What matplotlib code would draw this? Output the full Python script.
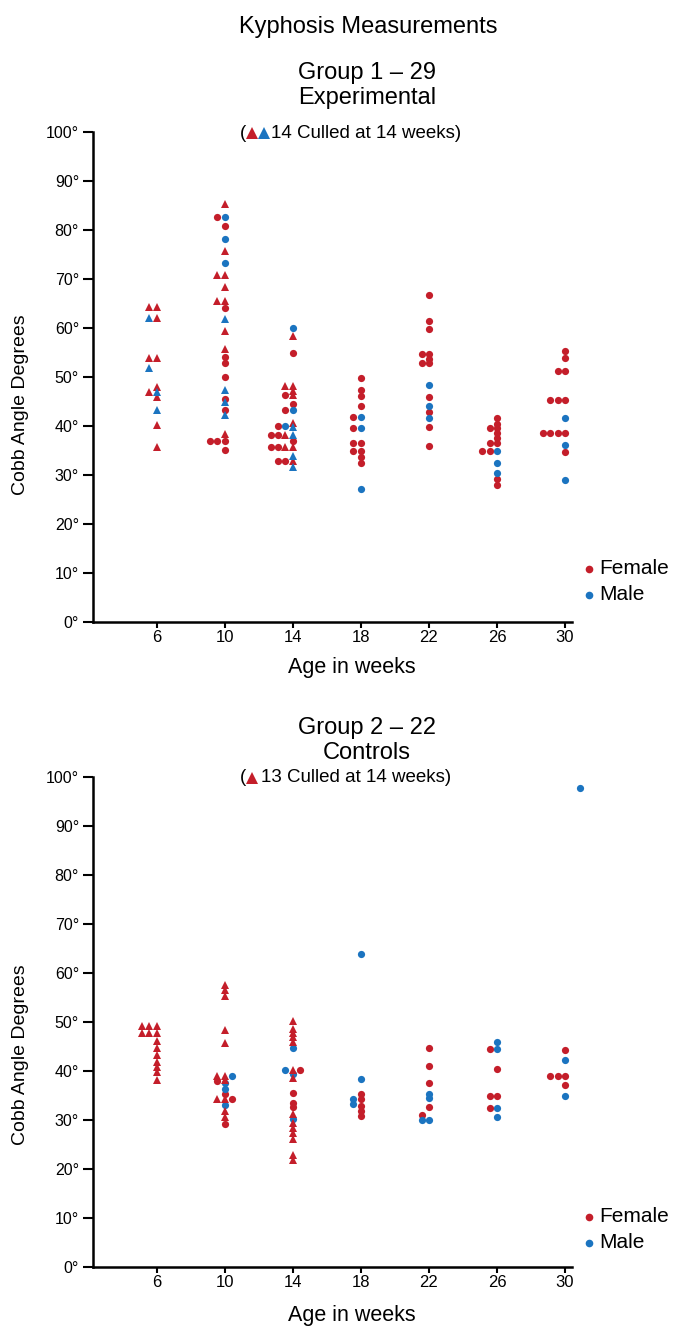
import matplotlib
matplotlib.use("Agg")
import matplotlib.pyplot as plt
from matplotlib.lines import Line2D

plt.rcParams['font.family'] = ['Liberation Sans', 'DejaVu Sans']

RED = '#C41E2A'
BLUE = '#1B74C0'

# kind codes: F/M = female/male, ^ = culled at 14 weeks, o = kept
# slot: dodge position inside a row of tied values (0 = on the age column)

# ---------------- Group 1 (Experimental) ----------------
exp6_cobb = [64.3, 64.3, 62.1, 62.1, 53.8, 53.8, 51.8, 48.0, 46.9, 47.0, 45.9, 43.2, 40.3, 35.8]
exp6_kind = ['F^', 'F^', 'M^', 'F^', 'F^', 'F^', 'M^', 'F^', 'F^', 'M^', 'F^', 'M^', 'F^', 'F^']
exp6_slot = [-1, 0, -1, 0, -1, 0, -1, 0, -1, 0, 0, 0, 0, 0]

exp10_cobb = [85.4, 82.6, 82.6, 80.8, 78.1, 75.8, 73.3, 70.9, 70.9, 68.4, 65.6, 65.6, 64.1,
              61.8, 59.3, 55.7, 54.0, 52.9, 50.0, 47.3, 45.6, 44.8, 43.2, 42.2, 38.3,
              37.0, 37.0, 37.0, 35.1]
exp10_kind = ['F^', 'Fo', 'Mo', 'Fo', 'Mo', 'F^', 'Mo', 'F^', 'F^', 'F^', 'F^', 'F^', 'Fo',
              'M^', 'F^', 'F^', 'Fo', 'Fo', 'Fo', 'M^', 'Fo', 'M^', 'Fo', 'M^', 'F^',
              'Fo', 'Fo', 'Fo', 'Fo']
exp10_slot = [0, -1, 0, 0, 0, 0, 0, -1, 0, 0, -1, 0, 0,
              0, 0, 0, 0, 0, 0, 0, 0, 0, 0, 0, 0,
              -2, -1, 0, 0]

exp14_cobb = [59.9, 58.3, 55.0, 48.2, 48.2, 47.1, 46.3, 46.3, 44.4, 43.3, 43.3, 40.7,
              40.1, 40.1, 39.7, 38.2, 38.2, 38.2, 38.2, 37.0, 35.8, 35.8, 35.8, 35.8,
              33.8, 32.8, 32.8, 32.8, 31.7]
exp14_kind = ['Mo', 'F^', 'Fo', 'F^', 'F^', 'F^', 'Fo', 'F^', 'Fo', 'Fo', 'Mo', 'F^',
              'Fo', 'Mo', 'M^', 'Fo', 'Fo', 'F^', 'M^', 'Fo', 'Fo', 'Fo', 'F^', 'F^',
              'M^', 'Fo', 'Fo', 'F^', 'M^']
exp14_slot = [0, 0, 0, -1, 0, 0, -1, 0, 0, -1, 0, 0,
              -2, -1, 0, -3, -2, -1, 0, 0, -3, -2, -1, 0,
              0, -2, -1, 0, 0]

exp18_cobb = [49.7, 47.3, 46.1, 44.1, 41.8, 41.8, 39.5, 39.5, 36.6, 36.6, 35.0, 35.0, 33.7, 32.5, 27.2]
exp18_kind = ['Fo', 'Fo', 'Fo', 'Fo', 'Fo', 'Mo', 'Fo', 'Mo', 'Fo', 'Fo', 'Fo', 'Fo', 'Fo', 'Fo', 'Mo']
exp18_slot = [0, 0, 0, 0, -1, 0, -1, 0, -1, 0, -1, 0, 0, 0, 0]

exp22_cobb = [66.8, 61.4, 59.7, 54.7, 54.7, 53.7, 52.8, 52.8, 48.4, 45.9, 44.0, 42.8, 41.7, 39.8, 35.9]
exp22_kind = ['Fo', 'Fo', 'Fo', 'Fo', 'Fo', 'Fo', 'Fo', 'Fo', 'Mo', 'Fo', 'Mo', 'Fo', 'Mo', 'Fo', 'Fo']
exp22_slot = [0, 0, 0, -1, 0, 0, -1, 0, 0, 0, 0, 0, 0, 0, 0]

exp26_cobb = [41.7, 40.5, 39.5, 39.5, 38.5, 37.5, 36.5, 36.5, 35.0, 35.0, 35.0, 32.5, 30.5, 29.2, 28.0]
exp26_kind = ['Fo', 'Fo', 'Fo', 'Fo', 'Fo', 'Fo', 'Fo', 'Fo', 'Fo', 'Fo', 'Mo', 'Mo', 'Mo', 'Fo', 'Fo']
exp26_slot = [0, 0, -1, 0, 0, 0, -1, 0, -2, -1, 0, 0, 0, 0, 0]

exp30_cobb = [55.4, 53.9, 51.2, 51.2, 45.3, 45.3, 45.3, 41.7, 38.6, 38.6, 38.6, 38.6, 36.2, 34.6, 28.9]
exp30_kind = ['Fo', 'Fo', 'Fo', 'Fo', 'Fo', 'Fo', 'Fo', 'Mo', 'Fo', 'Fo', 'Fo', 'Fo', 'Mo', 'Fo', 'Mo']
exp30_slot = [0, 0, -1, 0, -2, -1, 0, 0, -3, -2, -1, 0, 0, 0, 0]

# ---------------- Group 2 (Controls) ----------------
ctl6_cobb = [49.2, 49.2, 49.2, 47.8, 47.8, 47.8, 46.1, 44.7, 43.3, 41.8, 40.8, 39.8, 38.1]
ctl6_kind = ['F^'] * 13
ctl6_slot = [-2, -1, 0, -2, -1, 0, 0, 0, 0, 0, 0, 0, 0]

ctl10_cobb = [57.5, 56.5, 55.4, 48.3, 45.7, 39.0, 39.0, 39.0, 38.2, 38.0, 37.6, 36.3,
              35.3, 34.2, 34.2, 34.2, 33.0, 31.8, 30.6, 29.2]
ctl10_kind = ['F^', 'F^', 'F^', 'F^', 'F^', 'F^', 'F^', 'Mo', 'F^', 'Fo', 'Mo', 'Mo',
              'Fo', 'F^', 'F^', 'Fo', 'Mo', 'F^', 'F^', 'Fo']
ctl10_slot = [0, 0, 0, 0, 0, -1, 0, 1, 0, -1, 0, 0,
              0, -1, 0, 1, 0, 0, 0, 0]

ctl14_cobb = [50.3, 48.6, 47.8, 46.9, 45.9, 44.7, 40.3, 40.3, 40.3, 39.4, 38.5, 35.6,
              33.5, 32.6, 31.2, 30.2, 29.3, 28.4, 27.3, 26.1, 22.9, 21.9]
ctl14_kind = ['F^', 'F^', 'F^', 'F^', 'F^', 'Mo', 'Mo', 'F^', 'Fo', 'Mo', 'F^', 'Fo',
              'Fo', 'Fo', 'F^', 'Mo', 'F^', 'F^', 'F^', 'F^', 'F^', 'F^']
ctl14_slot = [0, 0, 0, 0, 0, 0, -1, 0, 1, 0, 0, 0,
              0, 0, 0, 0, 0, 0, 0, 0, 0, 0]

ctl18_cobb = [63.8, 38.4, 35.4, 34.2, 34.2, 33.3, 32.8, 31.8, 30.9]
ctl18_kind = ['Mo', 'Mo', 'Fo', 'Mo', 'Fo', 'Mo', 'Fo', 'Fo', 'Fo']
ctl18_slot = [0, 0, 0, -1, 0, -1, 0, 0, 0]

ctl22_cobb = [44.6, 41.1, 37.5, 35.3, 34.4, 32.7, 31.1, 29.9, 29.9]
ctl22_kind = ['Fo', 'Fo', 'Fo', 'Mo', 'Mo', 'Fo', 'Fo', 'Mo', 'Mo']
ctl22_slot = [0, 0, 0, 0, 0, 0, -1, -1, 0]

ctl26_cobb = [46.0, 44.5, 44.5, 40.5, 34.8, 34.8, 32.5, 32.5, 30.7]
ctl26_kind = ['Mo', 'Fo', 'Mo', 'Fo', 'Fo', 'Fo', 'Fo', 'Mo', 'Mo']
ctl26_slot = [0, -1, 0, 0, -1, 0, -1, 0, 0]

ctl30_cobb = [97.7, 44.3, 42.3, 38.9, 38.9, 38.9, 37.1, 34.8]
ctl30_kind = ['Mo', 'Fo', 'Mo', 'Fo', 'Fo', 'Fo', 'Fo', 'Mo']
ctl30_slot = [2, 0, 0, -2, -1, 0, 0, 0]

week_ticks = [6, 10, 14, 18, 22, 26, 30]
deg_ticks = list(range(0, 101, 10))

exp_groups = [(6, exp6_cobb, exp6_kind, exp6_slot), (10, exp10_cobb, exp10_kind, exp10_slot),
              (14, exp14_cobb, exp14_kind, exp14_slot), (18, exp18_cobb, exp18_kind, exp18_slot),
              (22, exp22_cobb, exp22_kind, exp22_slot), (26, exp26_cobb, exp26_kind, exp26_slot),
              (30, exp30_cobb, exp30_kind, exp30_slot)]
ctl_groups = [(6, ctl6_cobb, ctl6_kind, ctl6_slot), (10, ctl10_cobb, ctl10_kind, ctl10_slot),
              (14, ctl14_cobb, ctl14_kind, ctl14_slot), (18, ctl18_cobb, ctl18_kind, ctl18_slot),
              (22, ctl22_cobb, ctl22_kind, ctl22_slot), (26, ctl26_cobb, ctl26_kind, ctl26_slot),
              (30, ctl30_cobb, ctl30_kind, ctl30_slot)]

W, H = 673, 1326
fig = plt.figure(figsize=(W / 100, H / 100), dpi=100)


def fx(x):
    return x / W


def fy(y):
    return 1 - y / H


SLOT = 0.44
STYLE = {'Fo': (RED, 'o', 5.2), 'Mo': (BLUE, 'o', 5.2),
         'F^': (RED, '^', 5.8), 'M^': (BLUE, '^', 5.8)}


def draw_panel(ax, groups):
    for kind, (col, mk, ms) in STYLE.items():
        xs, ys = [], []
        for week, vals, kinds, slots in groups:
            assert len(vals) == len(kinds) == len(slots)
            for v, k, s in zip(vals, kinds, slots):
                if k == kind:
                    xs.append(week + s * SLOT)
                    ys.append(v)
        ax.plot(xs, ys, linestyle='none', marker=mk, ms=ms, color=col,
                markeredgewidth=0, clip_on=False, zorder=3)
    ax.set_xlim(2.24, 30.41)
    ax.set_ylim(0, 100)
    for sp in ('top', 'right'):
        ax.spines[sp].set_visible(False)
    for sp in ('left', 'bottom'):
        ax.spines[sp].set_linewidth(1.8)
    ax.set_yticks(deg_ticks)
    ax.set_yticklabels([f'{d}°' for d in deg_ticks], fontsize=11.5)
    ax.set_xticks(week_ticks)
    ax.set_xticklabels([str(w) for w in week_ticks], fontsize=12)
    ax.tick_params(axis='y', direction='out', length=7, width=1.5, pad=3)
    ax.tick_params(axis='x', direction='out', length=4, width=1.5, pad=2)
    ax.set_facecolor('none')


ax1 = fig.add_axes([fx(93), fy(622), fx(572) - fx(93), fy(132) - fy(622)])
draw_panel(ax1, exp_groups)
ax2 = fig.add_axes([fx(93), fy(1267), fx(572) - fx(93), fy(777) - fy(1267)])
draw_panel(ax2, ctl_groups)


def ftext(x, y, s, size, ha='center', **kw):
    fig.text(fx(x), fy(y), s, fontsize=size, ha=ha, va='center', **kw)


def fmark(x, y, mk, col, ms):
    fig.add_artist(Line2D([fx(x)], [fy(y)], marker=mk, color=col, ms=ms,
                          markeredgewidth=0, linestyle='none',
                          transform=fig.transFigure))


ftext(368, 27, 'Kyphosis Measurements', 17)
ftext(367, 73, 'Group 1 – 29', 17)
ftext(367, 98, 'Experimental', 17)
ftext(240, 133, '(', 13.5, ha='left')
fmark(252, 133, '^', RED, 8.5)
fmark(264, 133, '^', BLUE, 8.5)
ftext(271, 133, '14 Culled at 14 weeks)', 13.5, ha='left')

ftext(367, 728, 'Group 2 – 22', 17)
ftext(367, 753, 'Controls', 17)
ftext(240, 778, '(', 13.5, ha='left')
fmark(252, 778, '^', RED, 8.5)
ftext(261, 778, '13 Culled at 14 weeks)', 13.5, ha='left')

for yc, ylab in ((405, 668), (1055, 1316)):
    ftext(21, yc, 'Cobb Angle Degrees', 14, rotation=90)
    ftext(352, ylab, 'Age in weeks', 15.5)

for yf, ym in ((569, 595), (1217, 1243)):
    fmark(589, yf, 'o', RED, 5.5)
    ftext(599, yf, 'Female', 15, ha='left')
    fmark(589, ym, 'o', BLUE, 5.5)
    ftext(599, ym, 'Male', 15, ha='left')

fig.savefig('out.png', dpi=100, facecolor='white')
